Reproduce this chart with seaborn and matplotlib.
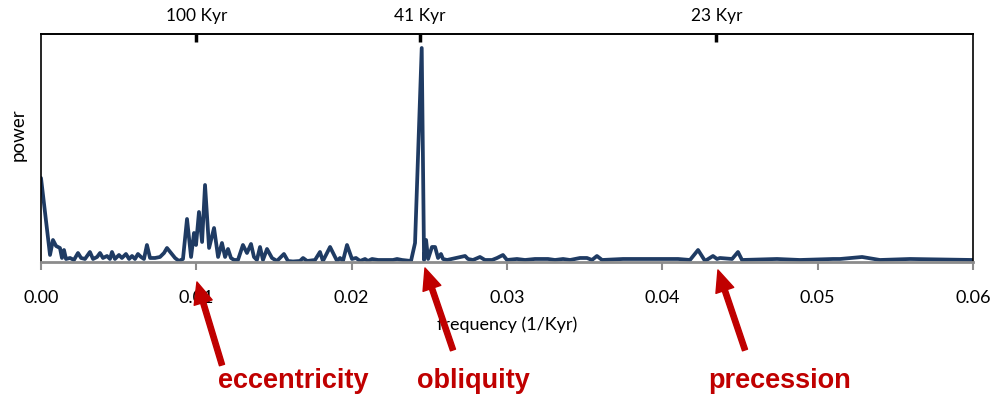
import matplotlib
matplotlib.use("Agg")
import matplotlib.pyplot as plt
import numpy as np
import pandas as pd
import seaborn as sns

# ---------------- data ----------------
freq = [0.00000, 0.00058, 0.00077, 0.00097, 0.00122, 0.00135, 0.00148, 0.00161,
        0.00187, 0.00212, 0.00238, 0.00258, 0.00283, 0.00315, 0.00335, 0.00361,
        0.00380, 0.00399, 0.00425, 0.00444, 0.00457, 0.00476, 0.00502, 0.00521,
        0.00547, 0.00567, 0.00586, 0.00605, 0.00624, 0.00644, 0.00663, 0.00682,
        0.00702, 0.00734, 0.00766, 0.00792, 0.00811, 0.00837, 0.00863, 0.00888,
        0.00914, 0.00940, 0.00966, 0.00985, 0.00998, 0.01017, 0.01037, 0.01056,
        0.01082, 0.01114, 0.01140, 0.01165, 0.01185, 0.01204, 0.01223, 0.01243,
        0.01268, 0.01300, 0.01326, 0.01352, 0.01371, 0.01390, 0.01410, 0.01429,
        0.01455, 0.01487, 0.01519, 0.01564, 0.01590, 0.01622, 0.01667, 0.01687,
        0.01713, 0.01764, 0.01796, 0.01815, 0.01861, 0.01893, 0.01906, 0.01925,
        0.01944, 0.01970, 0.02002, 0.02028, 0.02054, 0.02086, 0.02105, 0.02131,
        0.02170, 0.02266, 0.02292, 0.02324, 0.02382, 0.02408, 0.02451, 0.02466,
        0.02479, 0.02492, 0.02517, 0.02537, 0.02556, 0.02575, 0.02588, 0.02614,
        0.02730, 0.02749, 0.02781, 0.02826, 0.02858, 0.02904, 0.02936, 0.02974,
        0.03000, 0.03064, 0.03116, 0.03180, 0.03213, 0.03264, 0.03309, 0.03361,
        0.03406, 0.03470, 0.03515, 0.03547, 0.03579, 0.03612, 0.03747, 0.03792,
        0.03901, 0.03998, 0.04101, 0.04178, 0.04230, 0.04275, 0.04326, 0.04352,
        0.04371, 0.04449, 0.04487, 0.04513, 0.04738, 0.04886, 0.05099, 0.05144,
        0.05286, 0.05401, 0.05595, 0.06000]
power = [84, 7, 22, 16, 14, 4, 12, 3,
         4, 2, 9, 4, 3, 10, 3, 5,
         9, 4, 6, 3, 10, 3, 7, 4,
         8, 3, 6, 3, 8, 5, 3, 17,
         4, 4, 5, 9, 14, 9, 4, 1,
         3, 43, 5, 29, 17, 50, 20, 77,
         14, 34, 5, 19, 5, 13, 4, 2,
         2, 17, 9, 18, 5, 2, 15, 2,
         13, 4, 1, 8, 1, 0.5, 1, 4,
         1, 2, 10, 1, 15, 5, 1, 4,
         1, 17, 3, 4, 1, 3, 1, 3,
         2, 2, 3, 2, 1, 19, 214, 2,
         22, 3, 15, 15, 4, 8, 3, 2,
         6, 3, 2, 5, 2, 2, 4, 7,
         2, 3, 2, 3, 3, 3, 2, 3,
         2, 4, 4, 2, 6, 2, 3, 3,
         3, 3, 3, 2, 12, 1, 6, 3,
         4, 3, 10, 2, 3, 2, 3, 3,
         5, 2, 3, 2]

x_ticks = [0.00, 0.01, 0.02, 0.03, 0.04, 0.05, 0.06]
x_tick_labels = ["0.00", "0.01", "0.02", "0.03", "0.04", "0.05", "0.06"]
period_kyr = [100, 41, 23]
period_labels = ["100 Kyr", "41 Kyr", "23 Kyr"]
cycle_names = ["eccentricity", "obliquity", "precession"]

# ---------------- style ----------------
sns.set_theme(style="white")
plt.rcParams["font.family"] = ["Lato", "DejaVu Sans"]

LINE = "#1F3B63"
RED = "#C00000"

fig = plt.figure(figsize=(10, 3.97), dpi=100)
ax = fig.add_axes([0.041, 0.3401, 0.932, 0.5743])

df = pd.DataFrame({"frequency": freq, "power": power})
sns.lineplot(data=df, x="frequency", y="power", ax=ax, color=LINE,
             linewidth=2.7, estimator=None, solid_joinstyle="round")

ax.set_xlim(0, 0.06)
ax.set_ylim(0, 228)
ax.set_yticks([])
ax.set_xticks(x_ticks, x_tick_labels)
ax.tick_params(axis="x", bottom=True, direction="out", length=6, width=1.5,
               color="#8c8c8c", pad=14, labelsize=13, labelcolor="black")

for s in ["left", "top", "right"]:
    ax.spines[s].set_color("black")
    ax.spines[s].set_linewidth(1.2)
ax.spines["bottom"].set_color("#8c8c8c")
ax.spines["bottom"].set_linewidth(2)

sec = ax.secondary_xaxis("top")
sec.set_xticks([1 / p for p in period_kyr], period_labels)
sec.tick_params(direction="in", length=6, width=2.5, color="black", pad=7,
                labelsize=12.5, labelcolor="black")
sec.spines["top"].set_color("black")
sec.spines["top"].set_linewidth(1.2)

ax.set_xlabel("frequency (1/Kyr)", fontsize=13, color="black")
ax.xaxis.label.set_va("center")
ax.xaxis.set_label_coords(0.5, -0.276)
ax.set_ylabel("power", fontsize=13.5, color="black")
ax.yaxis.label.set_va("center")
ax.yaxis.label.set_ha("center")
ax.yaxis.set_label_coords(-0.0247, 0.56)

# ---------------- annotations ----------------
tips = [(0.01004, -20), (0.02472, -6), (0.04358, -8)]          # data coords
tails = [(222, 32), (453, 47), (745, 47)]                       # figure pixels
text_x = [293, 473, 780]
arrow_style = "simple,tail_width=0.38,head_width=1.35,head_length=1.55"
for tip, tail in zip(tips, tails):
    ax.annotate("", xy=tip, xycoords="data", xytext=tail,
                textcoords="figure pixels", annotation_clip=False,
                arrowprops=dict(arrowstyle=arrow_style, color=RED,
                                mutation_scale=10, shrinkA=0, shrinkB=0))
for name, tx in zip(cycle_names, text_x):
    fig.text(tx / 1000, 9 / 397, name, ha="center", va="baseline",
             color=RED, fontsize=19.5, fontweight="bold",
             family=["Liberation Sans", "DejaVu Sans"])

fig.savefig("out.png", dpi=100)
